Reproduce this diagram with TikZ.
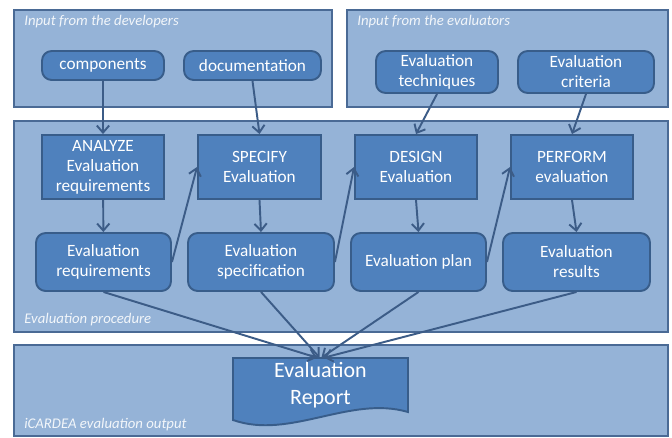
\documentclass[tikz,border=0pt]{standalone}
\usepackage{fontspec}
\setmainfont{Carlito}
\usetikzlibrary{arrows.meta}
\definecolor{panelfill}{RGB}{149,179,215}
\definecolor{panelline}{RGB}{74,106,149}
\definecolor{boxfill}{RGB}{79,129,189}
\definecolor{boxline}{RGB}{56,93,138}
\definecolor{flowline}{RGB}{60,92,135}
\tikzset{
  panel/.style = {draw=panelline,fill=panelfill,line width=1.1pt},
  panellabel/.style = {anchor=west,inner sep=0pt,text=white!88!panelfill,
    font=\itshape\fontsize{8.4}{10}\selectfont},
  task/.style = {draw=boxline,fill=boxfill,line width=1.1pt,text=white,
    align=center,inner sep=0pt,minimum width=2.44cm,minimum height=1.28cm,
    font=\fontsize{9.8}{11.4}\selectfont},
  result/.style = {task,rounded corners=5.5pt,minimum height=1.16cm},
  source/.style = {result,minimum height=0.58cm}
}
\tikzset{>={Straight Barb[length=4pt,width=7pt]}}
\tikzset{flow/.style = {->,draw=flowline,line width=1.1pt}}

\begin{document}
\begin{tikzpicture}[x=0.02cm,y=-0.02cm]
  \useasboundingbox (0,0) rectangle (672,437);
  % the four panels
  \draw[panel] (14,10) rectangle (332,107);
  \draw[panel] (347,10) rectangle (668,107);
  \draw[panel] (14,121) rectangle (668,332);
  \draw[panel] (14,345) rectangle (668,436);
  \node[panellabel] (devlabel) at (24,22) {Input from the developers};
  \node[panellabel] (evallabel) at (357,22) {Input from the evaluators};
  \node[panellabel] (proclabel) at (24,320) {Evaluation procedure};
  \node[panellabel] (outlabel) at (24,425) {iCARDEA evaluation output};

  % inputs
  \node[source] (components) at (103,65.5) {components};
  \node[source,minimum width=2.74cm] (documentation) at (252.5,65.5) {documentation};
  \node[source,minimum height=0.84cm] (techniques) at (437,72) {Evaluation\\techniques};
  \node[source,minimum height=0.84cm,minimum width=2.72cm] (criteria) at (586,72) {Evaluation\\criteria};

  % procedure steps
  \node[task] (analyze) at (103,167) {ANALYZE\\Evaluation\\requirements};
  \node[task,minimum width=2.46cm] (specify) at (259.5,167) {SPECIFY\\Evaluation};
  \node[task] (design) at (416,167) {DESIGN\\Evaluation};
  \node[task] (perform) at (572,167) {PERFORM\\evaluation};

  \node[result,minimum width=2.7cm] (requirements) at (103.5,262) {Evaluation\\requirements};
  \node[result,minimum width=2.92cm] (specification) at (261,262) {Evaluation\\specification};
  \node[result,minimum width=2.7cm] (plan) at (418.5,262) {Evaluation plan};
  \node[result,minimum width=2.94cm] (results) at (576.5,262) {Evaluation\\results};

  % report document
  \filldraw[fill=boxfill,draw=boxline,line width=1.1pt]
    (233,358) -- (408,358) -- (408,412)
    .. controls (350,395) and (290,440) .. (233,420) -- cycle;
  \node[inner sep=0pt,minimum width=3.5cm,minimum height=1.08cm,text=white,
    align=center,font=\fontsize{12.5}{15.3}\selectfont] (report) at (320.5,385)
    {\raisebox{-1.6pt}{Evaluation}\\\raisebox{-1.6pt}{Report}};

  \draw[flow] (components) -- (analyze);
  \draw[flow] (documentation.south) -- (specify.north);
  \draw[flow] (techniques.south) -- (design.north);
  \draw[flow] (criteria.south) -- (perform.north);

  \draw[flow] (analyze) -- (requirements);
  \draw[flow] (specify.south) -- (specification.north);
  \draw[flow] (design.south) -- (plan.north);
  \draw[flow] (perform.south) -- (results.north);

  \draw[flow] (requirements.east) -- (specify.west);
  \draw[flow] (specification.east) -- (design.west);
  \draw[flow] (plan.east) -- (perform.west);

  \draw[flow] (requirements.south) -- ([xshift=-2pt]report.north);
  \draw[flow] (specification.south) -- ([xshift=-0.5pt]report.north);
  \draw[flow] (plan.south) -- ([xshift=0.5pt]report.north);
  \draw[flow] (results.south) -- ([xshift=2pt]report.north);
\end{tikzpicture}
\end{document}
